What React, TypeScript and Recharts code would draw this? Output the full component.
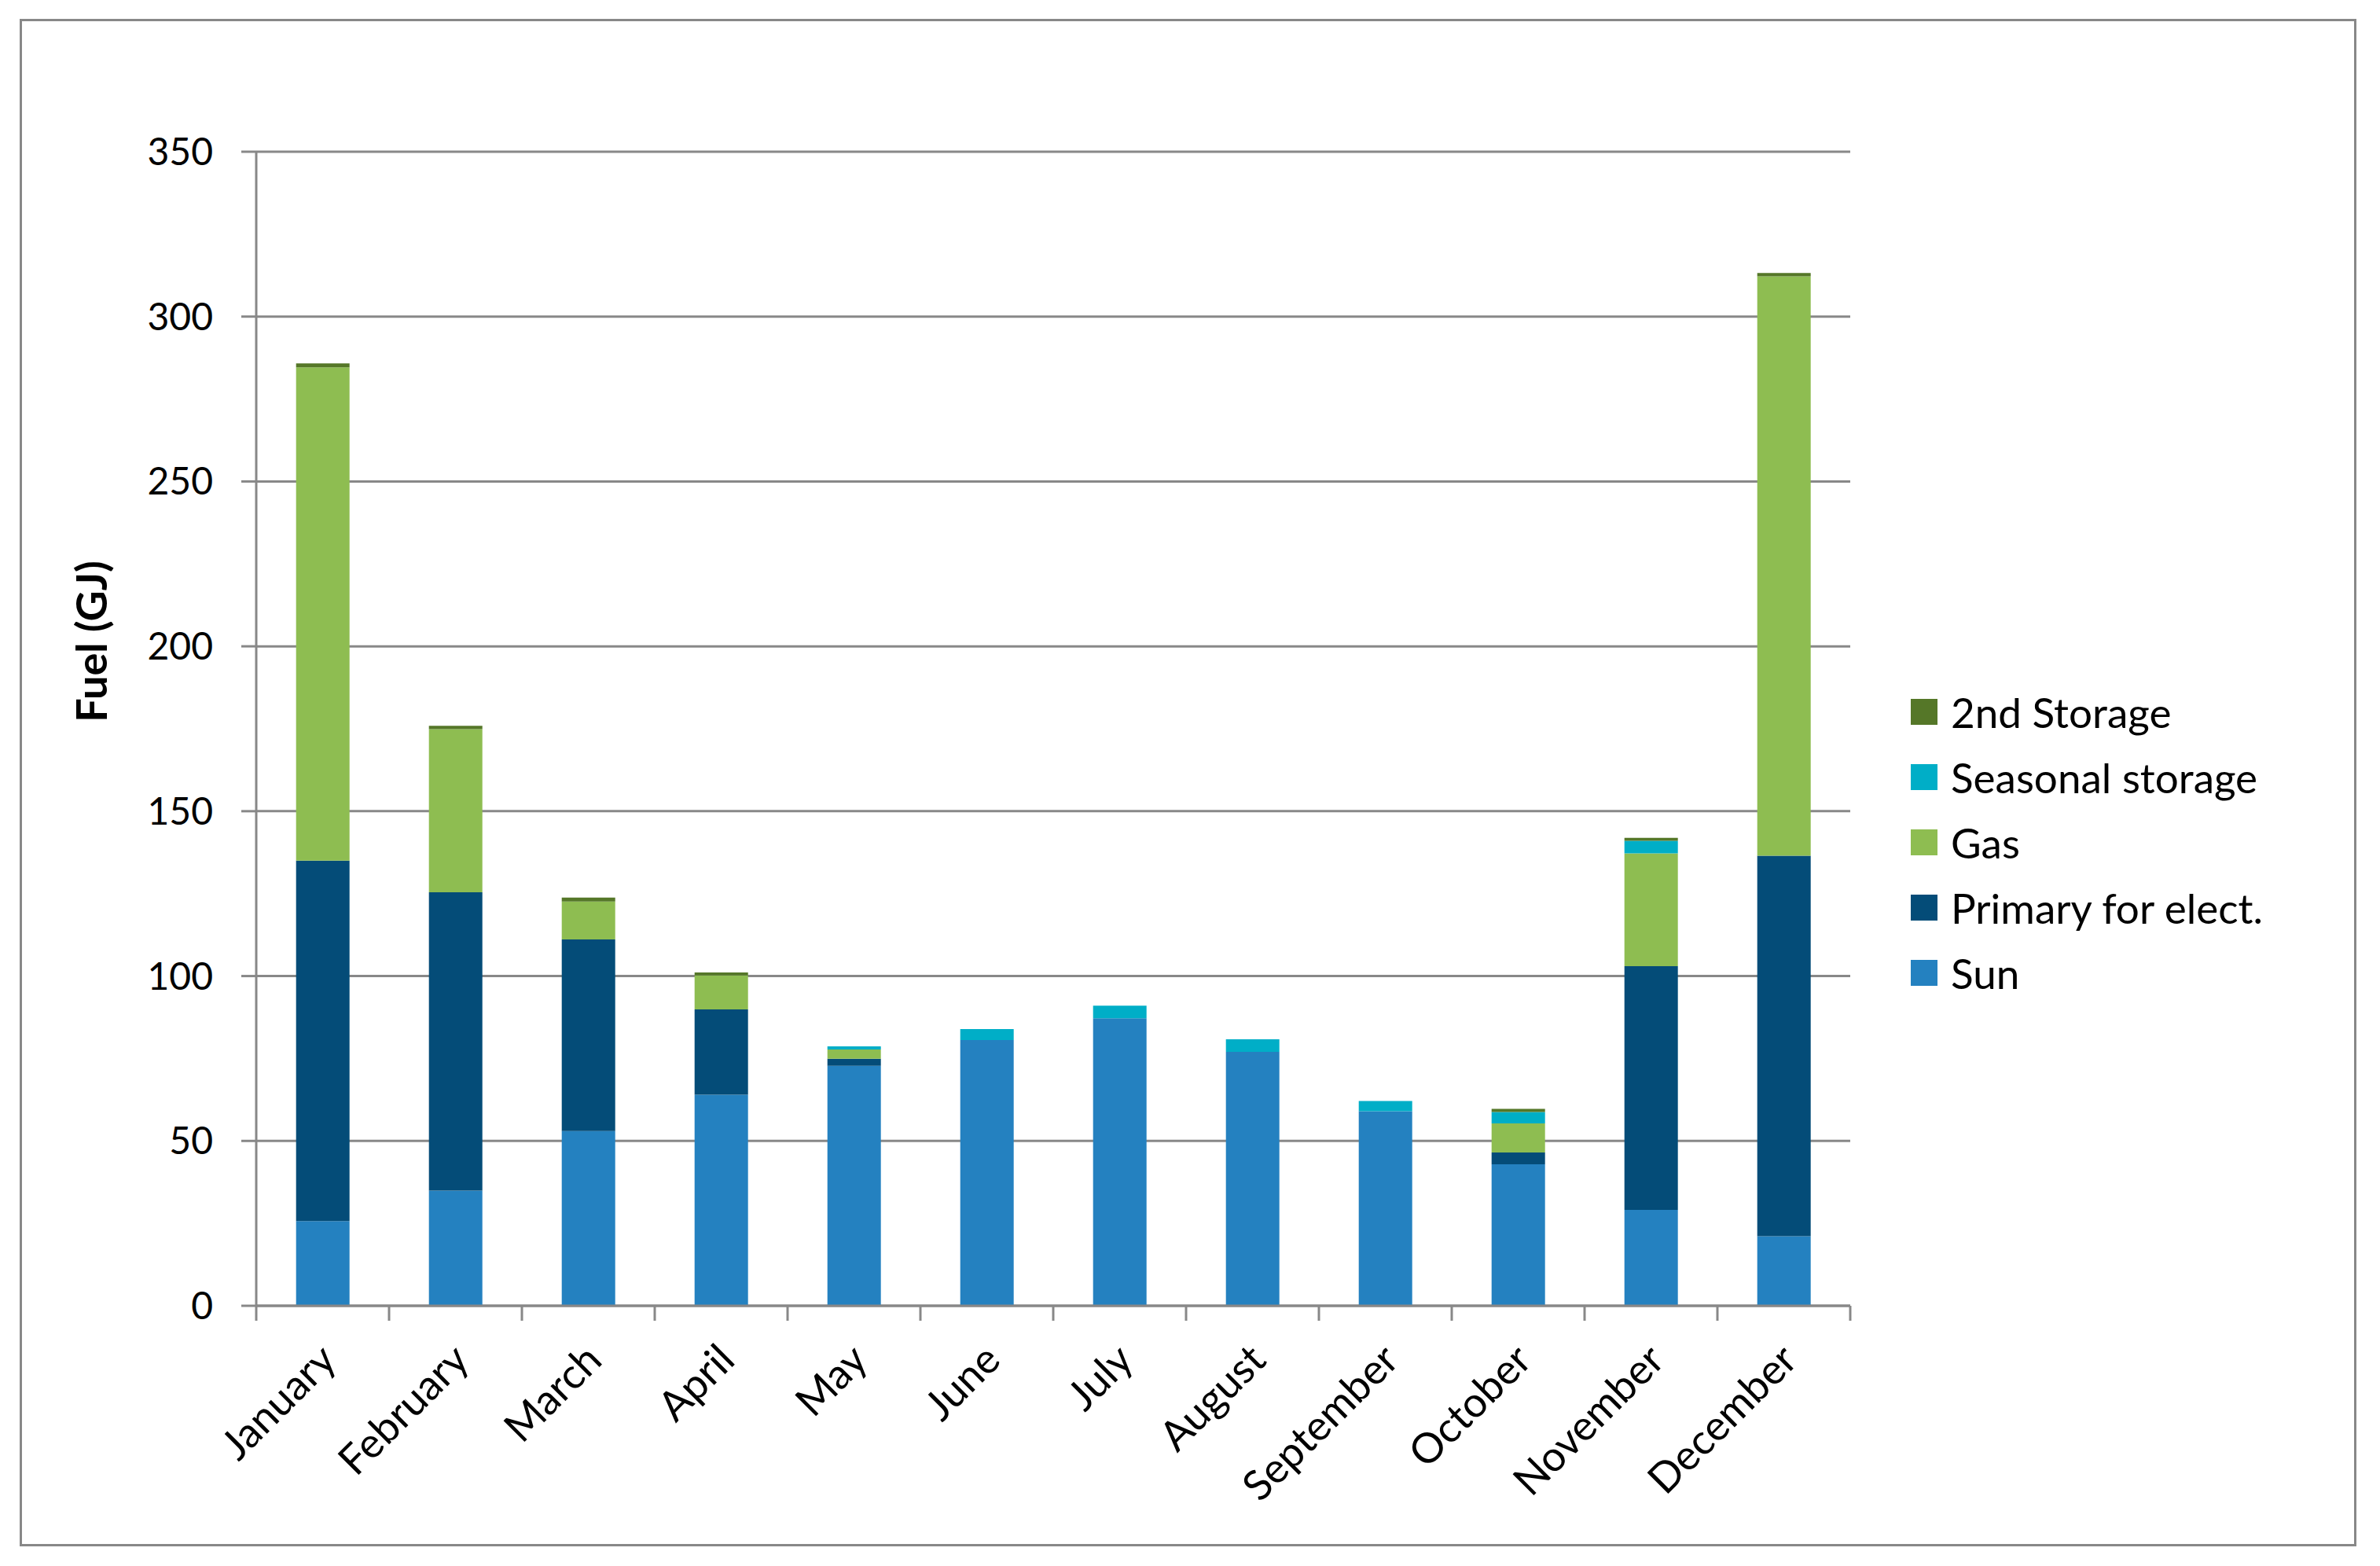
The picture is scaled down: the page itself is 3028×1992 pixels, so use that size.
import React from 'react';
import { BarChart, Bar, XAxis, YAxis, CartesianGrid } from 'recharts';

const months = ['January', 'February', 'March', 'April', 'May', 'June', 'July', 'August', 'September', 'October', 'November', 'December'];
const sun = [25.7, 34.9, 53.0, 64.0, 72.8, 80.6, 87.2, 77.0, 59.0, 42.9, 29.1, 21.1];
const primaryElect = [109.3, 90.5, 58.1, 25.9, 2.1, 0, 0, 0, 0, 3.6, 73.9, 115.4];
const gas = [149.6, 49.5, 11.5, 10.3, 2.8, 0, 0, 0, 0, 8.8, 34.2, 175.7];
const seasonalStorage = [0, 0, 0, 0, 1.0, 3.3, 3.8, 3.8, 3.1, 3.5, 3.8, 0];
const secondStorage = [1.2, 1.0, 1.2, 0.9, 0, 0, 0, 0, 0, 0.9, 0.9, 1.0];
const yTicks = [0, 50, 100, 150, 200, 250, 300, 350];

const series = [
  { key: 'sun', name: 'Sun', color: '#2481C0', values: sun },
  { key: 'primary', name: 'Primary for elect.', color: '#044C78', values: primaryElect },
  { key: 'gas', name: 'Gas', color: '#8EBD51', values: gas },
  { key: 'seasonal', name: 'Seasonal storage', color: '#00AEC7', values: seasonalStorage },
  { key: 'second', name: '2nd Storage', color: '#557728', values: secondStorage },
];

const data = months.map((m, i) => {
  const row: Record<string, any> = { month: m };
  series.forEach((s) => { row[s.key] = s.values[i]; });
  return row;
});

const W = 3028;
const H = 1992;
const PLOT_LEFT = 326;
const PLOT_RIGHT = 2354;
const PLOT_TOP = 193;
const PLOT_BOTTOM = 1661;
const BAND = (PLOT_RIGHT - PLOT_LEFT) / months.length;
const GRID = '#888888';
const FONT = 'Lato, "Open Sans", sans-serif';

const MonthTick = (props: any) => {
  const { x, y, payload, index } = props;
  const half = BAND / 2;
  const tx = x + 20;
  const ty = y + 72;
  return (
    <g>
      <line x1={x - half} y1={y} x2={x - half} y2={y + 19} stroke={GRID} strokeWidth={3} />
      {index === months.length - 1 && (
        <line x1={x + half} y1={y} x2={x + half} y2={y + 19} stroke={GRID} strokeWidth={3} />
      )}
      <text x={tx} y={ty} transform={`rotate(-45, ${tx}, ${ty})`} textAnchor="end" fontSize={53} fontFamily={FONT} fill="#000">
        {payload.value}
      </text>
    </g>
  );
};

const YTitle = () => (
  <text x={136} y={816} transform="rotate(-90, 136, 816)" textAnchor="middle" fontSize={54} fontWeight="bold" fontFamily={FONT} fill="#000">
    Fuel (GJ)
  </text>
);

export default function App() {
  const legendItems = [...series].reverse();
  return (
    <div style={{ position: 'absolute', left: 0, top: 0, width: W, height: H, background: '#fff', fontFamily: FONT }}>
      <div style={{ position: 'absolute', left: 25, top: 24, width: 2973, height: 1943, border: `3px solid ${GRID}`, boxSizing: 'border-box' }} />
      <div style={{ position: 'absolute', left: 0, top: 0 }}>
        <BarChart
          width={W}
          height={H}
          data={data}
          margin={{ top: PLOT_TOP, right: W - PLOT_RIGHT, bottom: 0, left: 0 }}
          barCategoryGap="30%"
        >
          <CartesianGrid horizontal vertical={false} stroke={GRID} strokeWidth={3} />
          <XAxis
            dataKey="month"
            interval={0}
            tickLine={false}
            tickSize={0}
            tickMargin={0}
            axisLine={{ stroke: GRID, strokeWidth: 3 }}
            height={H - PLOT_BOTTOM}
            tick={<MonthTick />}
          />
          <YAxis
            domain={[0, 350]}
            ticks={yTicks}
            interval={0}
            width={PLOT_LEFT}
            tickSize={19}
            tickMargin={36}
            tickLine={{ stroke: GRID, strokeWidth: 3 }}
            axisLine={{ stroke: GRID, strokeWidth: 3 }}
            tick={{ fontSize: 48, fill: '#000', fontFamily: FONT }}
            label={<YTitle />}
          />
          {series.map((s) => (
            <Bar key={s.key} dataKey={s.key} name={s.name} stackId="a" fill={s.color} isAnimationActive={false} />
          ))}
        </BarChart>
      </div>
      <div style={{ position: 'absolute', left: 2431, top: 864 }}>
        {legendItems.map((s) => (
          <div key={s.key} style={{ display: 'flex', alignItems: 'center', height: 83 }}>
            <div style={{ width: 34, height: 33, background: s.color, marginRight: 17 }} />
            <span style={{ fontSize: 53, color: '#000', fontFamily: FONT, lineHeight: '1' }}>{s.name}</span>
          </div>
        ))}
      </div>
    </div>
  );
}
